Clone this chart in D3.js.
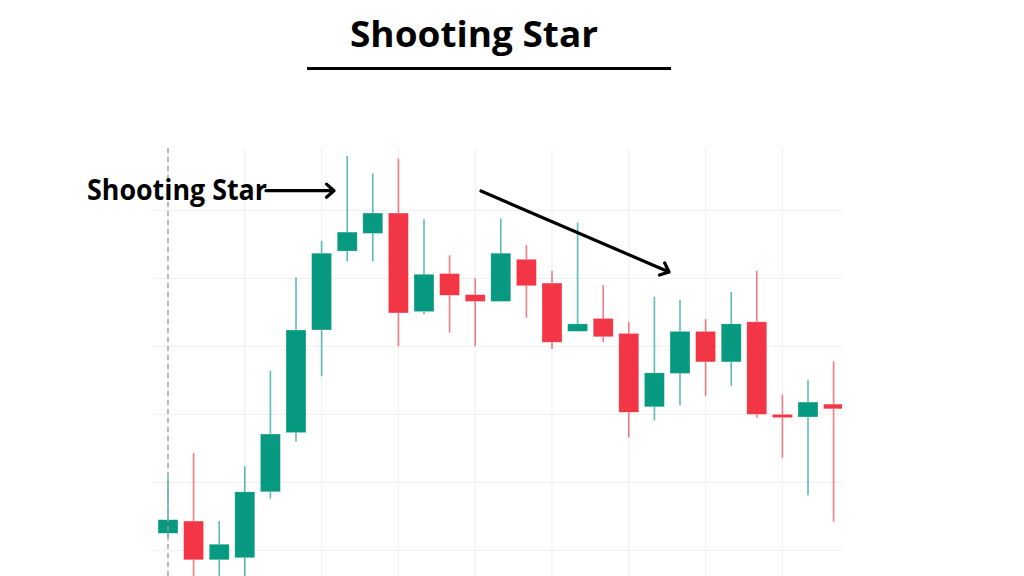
<!DOCTYPE html>
<html>
<head>
<meta charset="utf-8">
<script src="https://cdn.jsdelivr.net/npm/d3@7"></script>
<style>
  html, body { margin: 0; padding: 0; background: #fff; }
  svg { display: block; }
</style>
</head>
<body>
<script>
// candle data
var candles = d3.range(1, 28);
var opens  = [102.5, 104.3, 98.6, 98.9, 108.6, 117.3, 132.4, 144.0, 146.6, 149.6, 135.1, 140.7, 137.6,
              136.6, 142.8, 139.3, 132.2, 134.1, 131.9, 121.1, 126.0, 132.2, 127.7, 133.6, 120.0, 119.6, 121.5];
var highs  = [110.7, 114.3, 104.3, 112.4, 126.4, 140.1, 145.5, 158.0, 155.4, 157.6, 148.7, 143.4, 140.0,
              148.8, 144.9, 141.1, 148.2, 139.0, 133.6, 137.3, 136.8, 134.0, 138.0, 141.1, 122.9, 125.0, 127.8];
var lows   = [102.0, 95.0, 95.5, 95.0, 107.6, 116.0, 125.6, 142.5, 142.5, 130.0, 134.7, 132.0, 130.0,
              136.6, 134.2, 129.6, 132.2, 130.6, 116.6, 119.1, 121.3, 122.7, 124.2, 119.5, 113.6, 108.1, 104.2];
var closes = [104.5, 98.6, 100.9, 108.6, 117.1, 132.4, 143.7, 146.8, 149.6, 134.9, 140.6, 137.5, 136.6,
              143.7, 138.9, 130.6, 133.3, 131.4, 120.3, 126.1, 132.2, 127.7, 133.3, 120.0, 119.5, 121.8, 120.8];
var priceTicks = [100, 110, 120, 130, 140, 150];
var titleText = "Shooting Star";
var noteText = "Shooting Star";

var W = 1024, H = 576;
var up = "#089981", down = "#f23645";

var data = candles.map(function(c, i) {
  return { c: c, o: opens[i], h: highs[i], l: lows[i], cl: closes[i] };
});

var svg = d3.select("body").append("svg")
    .attr("width", W)
    .attr("height", H);

var plot = { left: 154, right: 842, top: 148, bottom: H };

var x = d3.scaleLinear().domain([1, 27]).range([168, 833.6]);
var y = d3.scaleLinear().domain([100, 150]).range([550.3, 210.3]);
var bodyW = 20;

svg.append("clipPath").attr("id", "plotclip")
  .append("rect")
    .attr("x", plot.left).attr("y", plot.top)
    .attr("width", plot.right - plot.left).attr("height", plot.bottom - plot.top);

// grid
var grid = svg.append("g").attr("stroke", "#f1f1f1").attr("stroke-width", 1.2);
grid.selectAll("line.h")
  .data(priceTicks).enter()
  .append("line")
    .attr("class", "h")
    .attr("x1", plot.left).attr("x2", plot.right)
    .attr("y1", function(d) { return y(d); })
    .attr("y2", function(d) { return y(d); });
grid.selectAll("line.v")
  .data(candles.filter(function(c) { return (c - 1) % 3 == 0; })).enter()
  .append("line")
    .attr("class", "v")
    .attr("y1", plot.top).attr("y2", plot.bottom)
    .attr("x1", function(d) { return x(d); })
    .attr("x2", function(d) { return x(d); });

var g = svg.append("g").attr("clip-path", "url(#plotclip)");

// wicks
g.selectAll("line.wick")
  .data(data).enter()
  .append("line")
    .attr("class", "wick")
    .attr("x1", function(d) { return x(d.c); })
    .attr("x2", function(d) { return x(d.c); })
    .attr("y1", function(d) { return y(d.h); })
    .attr("y2", function(d) { return y(d.l); })
    .attr("stroke", function(d) { return d.cl >= d.o ? up : down; })
    .attr("stroke-opacity", 0.65)
    .attr("stroke-width", 1.6);

// bodies
g.selectAll("rect.body")
  .data(data).enter()
  .append("rect")
    .attr("class", "body")
    .attr("x", function(d) { return x(d.c) - bodyW / 2; })
    .attr("width", bodyW)
    .attr("y", function(d) { return y(Math.max(d.o, d.cl)); })
    .attr("height", function(d) { return Math.max(3, Math.abs(y(d.o) - y(d.cl))); })
    .attr("fill", function(d) { return d.cl >= d.o ? up : down; })
    .attr("stroke", "#ffffff")
    .attr("stroke-opacity", 0.5)
    .attr("stroke-width", 0.6);

// dashed crosshair on the first candle
svg.append("line")
    .attr("x1", x(1)).attr("x2", x(1))
    .attr("y1", plot.top).attr("y2", plot.bottom)
    .attr("stroke", "#9a9a9a")
    .attr("stroke-width", 1.3)
    .attr("stroke-dasharray", "5,4");

// title + underline
svg.append("text")
    .attr("x", 474).attr("y", 47)
    .attr("text-anchor", "middle")
    .attr("font-family", "Open Sans, sans-serif")
    .attr("font-weight", 700)
    .attr("font-size", 36)
    .attr("textLength", 248)
    .attr("lengthAdjust", "spacingAndGlyphs")
    .attr("fill", "#000")
    .text(titleText);
svg.append("line")
    .attr("x1", 307).attr("x2", 671)
    .attr("y1", 68.5).attr("y2", 68.5)
    .attr("stroke", "#000").attr("stroke-width", 3);

// annotation
svg.append("text")
    .attr("x", 87).attr("y", 200)
    .attr("font-family", "Open Sans, sans-serif")
    .attr("font-weight", 700)
    .attr("font-size", 28.5)
    .attr("textLength", 180)
    .attr("lengthAdjust", "spacingAndGlyphs")
    .attr("fill", "#000")
    .text(noteText);

function arrow(x1, y1, x2, y2) {
  var a = Math.atan2(y2 - y1, x2 - x1), len = 10, sp = 0.72;
  var path = d3.path();
  path.moveTo(x1, y1);
  path.lineTo(x2, y2);
  path.moveTo(x2 - len * Math.cos(a - sp), y2 - len * Math.sin(a - sp));
  path.lineTo(x2, y2);
  path.lineTo(x2 - len * Math.cos(a + sp), y2 - len * Math.sin(a + sp));
  svg.append("path")
      .attr("d", path.toString())
      .attr("fill", "none")
      .attr("stroke", "#000")
      .attr("stroke-width", 3.2)
      .attr("stroke-linecap", "round")
      .attr("stroke-linejoin", "round");
}
arrow(266, 190.7, 334, 190.7);
arrow(481, 191, 669, 272);
</script>
</body>
</html>
